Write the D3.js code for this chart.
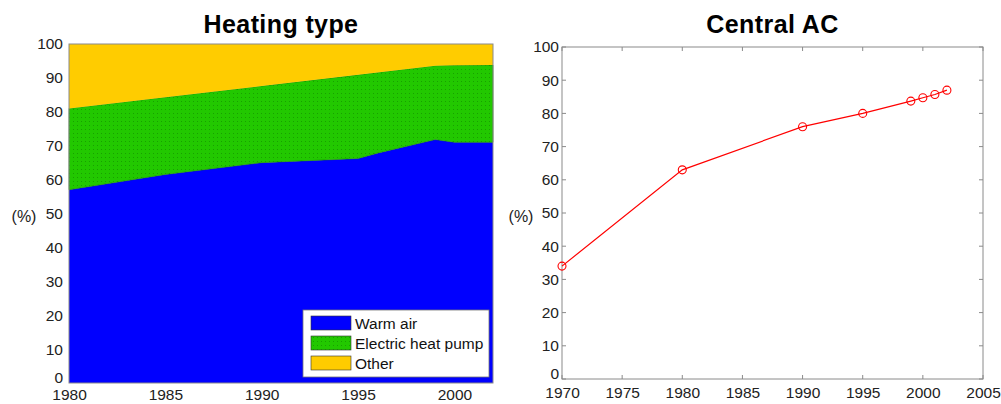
<!DOCTYPE html>
<html><head><meta charset="utf-8">
<script src="https://cdn.jsdelivr.net/npm/d3@7"></script>
<style>
body{margin:0;background:#fff;}
svg{display:block;font-family:"Liberation Sans",Arial,sans-serif;}
</style></head>
<body><svg id="c" width="1001" height="404"></svg>
<script>
// ---- data ----
const heatYears = [1980, 1985, 1990, 1995, 1996, 1999, 2000, 2002];
const warmAir   = [57, 61.5, 65, 66.2, 67.8, 71.8, 71.0, 71.0];
const heatPump  = [24, 22.8, 22.6, 24.7, 23.8, 21.8, 22.7, 22.8];
const other     = [19, 15.7, 12.4, 9.1, 8.4, 6.4, 6.3, 6.2];
const heatSeries = ["Warm air", "Electric heat pump", "Other"];
const heatColors = ["#0000ff", "#22c800", "#ffcc00"];

const acYears  = [1970, 1980, 1990, 1995, 1999, 2000, 2001, 2002];
const acValues = [34, 63, 76, 80, 83.7, 84.7, 85.7, 87];

const yTicks = [0,10,20,30,40,50,60,70,80,90,100];
const heatXTicks = [1980,1985,1990,1995,2000];
const acXTicks = [1970,1975,1980,1985,1990,1995,2000,2005];

const svg = d3.select("#c");
const tickFont = "15.5px";

// ---- left panel ----
const L = {l:69, r:493, t:44, b:383};
const xL = d3.scaleLinear().domain([1980,2002]).range([L.l, L.r]);
const yL = d3.scaleLinear().domain([0,100]).range([L.b, L.t]);

const rows = heatYears.map((y,i)=>({year:y, "Warm air":warmAir[i], "Electric heat pump":heatPump[i], "Other":other[i]}));
const stacked = d3.stack().keys(heatSeries)(rows);
const area = d3.area().x(d=>xL(d.data.year)).y0(d=>yL(d[0])).y1(d=>yL(d[1]));

const defs = svg.append("defs");
const pat = defs.append("pattern").attr("id","dots").attr("width",4).attr("height",4).attr("patternUnits","userSpaceOnUse");
pat.append("rect").attr("width",4).attr("height",4).attr("fill","#22c800");
pat.append("rect").attr("x",1).attr("y",1).attr("width",1).attr("height",1).attr("fill","#18a000");

svg.append("g").selectAll("path").data(stacked).join("path")
  .attr("d", area)
  .attr("fill",(d,i)=> i===1 ? "url(#dots)" : heatColors[i])
  .attr("stroke",(d,i)=> i===1 ? "#108000" : "none")
  .attr("stroke-width",0.6);

svg.append("rect").attr("x",L.l).attr("y",L.t).attr("width",L.r-L.l).attr("height",L.b-L.t)
  .attr("fill","none").attr("stroke","#8a8a8a").attr("stroke-width",1);

function styleAxis(g){
  g.select(".domain").remove();
  g.selectAll("text").attr("font-size",tickFont).attr("fill","#222").attr("font-family","Liberation Sans, Arial, sans-serif");
}
const gyL = svg.append("g").attr("transform",`translate(${L.l},0)`)
  .call(d3.axisLeft(yL).tickValues(yTicks).tickSize(0).tickPadding(6));
const gxL = svg.append("g").attr("transform",`translate(0,${L.b})`)
  .call(d3.axisBottom(xL).tickValues(heatXTicks).tickFormat(d3.format("d")).tickSize(0).tickPadding(6));
styleAxis(gyL); styleAxis(gxL);
gyL.selectAll(".tick").filter(d=>d===0).select("text").attr("dy","-0.05em");

svg.append("text").attr("x",24).attr("y",222).attr("text-anchor","middle").attr("font-size","16px").attr("fill","#222").text("(%)");
svg.append("text").attr("x",(L.l+L.r)/2).attr("y",33).attr("text-anchor","middle")
  .attr("font-size","25px").attr("font-weight","bold").attr("fill","#000").attr("letter-spacing","0.4").text("Heating type");

// legend
const lg = svg.append("g");
lg.append("rect").attr("x",303).attr("y",310).attr("width",186).attr("height",67).attr("fill","#fff").attr("stroke","#777").attr("stroke-width",0.8);
heatSeries.forEach((s,i)=>{
  const y0 = 316 + i*20;
  lg.append("rect").attr("x",311).attr("y",y0).attr("width",40).attr("height",14)
    .attr("fill", i===1 ? "url(#dots)" : heatColors[i]).attr("stroke","#333").attr("stroke-width",0.6);
  lg.append("text").attr("x",355).attr("y",y0+12.5).attr("font-size","15.5px").attr("fill","#111").text(s);
});

// ---- right panel ----
const R = {l:562, r:983, t:47, b:379};
const xR = d3.scaleLinear().domain([1970,2005]).range([R.l, R.r]);
const yR = d3.scaleLinear().domain([0,100]).range([R.b, R.t]);

svg.append("rect").attr("x",R.l).attr("y",R.t).attr("width",R.r-R.l).attr("height",R.b-R.t)
  .attr("fill","none").attr("stroke","#8a8a8a").attr("stroke-width",1);

const ticksG = svg.append("g").attr("stroke","#8a8a8a").attr("stroke-width",1);
acXTicks.forEach(t=>{
  ticksG.append("line").attr("x1",xR(t)).attr("x2",xR(t)).attr("y1",R.b).attr("y2",R.b-4);
  ticksG.append("line").attr("x1",xR(t)).attr("x2",xR(t)).attr("y1",R.t).attr("y2",R.t+4);
});
yTicks.forEach(t=>{
  ticksG.append("line").attr("x1",R.l).attr("x2",R.l+4).attr("y1",yR(t)).attr("y2",yR(t));
  ticksG.append("line").attr("x1",R.r).attr("x2",R.r-4).attr("y1",yR(t)).attr("y2",yR(t));
});

const gyR = svg.append("g").attr("transform",`translate(${R.l},0)`)
  .call(d3.axisLeft(yR).tickValues(yTicks).tickSize(0).tickPadding(3));
const gxR = svg.append("g").attr("transform",`translate(0,${R.b})`)
  .call(d3.axisBottom(xR).tickValues(acXTicks).tickFormat(d3.format("d")).tickSize(0).tickPadding(8));
styleAxis(gyR); styleAxis(gxR);
gyR.selectAll(".tick").filter(d=>d===0).select("text").attr("dy","-0.05em");

svg.append("text").attr("x",521).attr("y",222).attr("text-anchor","middle").attr("font-size","16px").attr("fill","#222").text("(%)");
svg.append("text").attr("x",(R.l+R.r)/2).attr("y",33).attr("text-anchor","middle")
  .attr("font-size","25px").attr("font-weight","bold").attr("fill","#000").attr("letter-spacing","0.4").text("Central AC");

const acData = acYears.map((y,i)=>({year:y, v:acValues[i]}));
svg.append("path").datum(acData)
  .attr("d", d3.line().x(d=>xR(d.year)).y(d=>yR(d.v)))
  .attr("fill","none").attr("stroke","#ff0000").attr("stroke-width",1.2);
svg.append("g").selectAll("circle").data(acData).join("circle")
  .attr("cx",d=>xR(d.year)).attr("cy",d=>yR(d.v)).attr("r",4)
  .attr("fill","none").attr("stroke","#ff0000").attr("stroke-width",1.1);
</script>
</body></html>
